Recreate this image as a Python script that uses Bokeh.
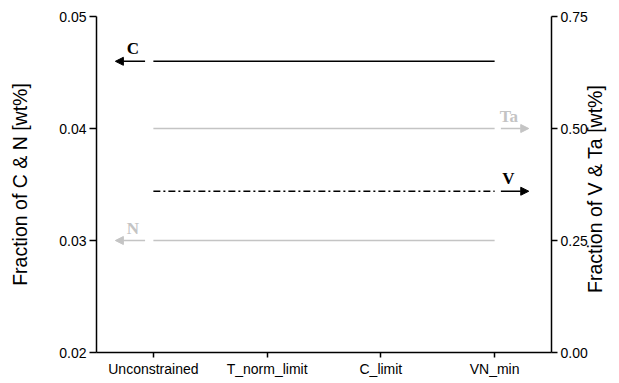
from bokeh.plotting import figure
from bokeh.models import (Range1d, LinearAxis, FixedTicker, NumeralTickFormatter,
                          Arrow, NormalHead, Label)
from bokeh.embed import file_html
from bokeh.resources import INLINE
import math

categories = ["Unconstrained", "T_norm_limit", "C_limit", "VN_min"]
c_vals = [0.046, 0.046, 0.046, 0.046]
n_vals = [0.030, 0.030, 0.030, 0.030]
ta_vals = [0.50, 0.50, 0.50, 0.50]
v_vals = [0.36, 0.36, 0.36, 0.36]
left_ticks = [0.02, 0.03, 0.04, 0.05]
right_ticks = [0.00, 0.25, 0.50, 0.75]
left_title = "Fraction of C & N [wt%]"
right_title = "Fraction of V & Ta [wt%]"

xs = list(range(len(categories)))
GRAY = "#c4c4c4"
SANS = "Liberation Sans"
SERIF = "Liberation Serif"

p = figure(width=619, height=383, output_backend="svg", toolbar_location=None,
           x_range=Range1d(-0.5, 3.5), y_range=Range1d(0.02, 0.05),
           min_border_left=96, min_border_right=63, min_border_top=16, min_border_bottom=31)
p.outline_line_color = None
p.grid.visible = False
p.background_fill_color = "white"
p.extra_y_ranges = {"right": Range1d(0.0, 0.75)}

# x axis
xa = p.xaxis[0]
xa.ticker = FixedTicker(ticks=xs)
xa.major_label_overrides = {i: c for i, c in enumerate(categories)}
xa.minor_tick_line_color = None
xa.major_tick_in = 0
xa.major_tick_out = 5
xa.axis_line_width = 1.5
xa.major_tick_line_width = 1.5
xa.major_label_text_font = SANS
xa.major_label_text_font_size = "14px"
xa.major_label_text_color = "black"
xa.major_label_standoff = 3

# left axis
ya = p.yaxis[0]
ya.ticker = FixedTicker(ticks=left_ticks)
ya.formatter = NumeralTickFormatter(format="0.00")
ya.axis_label = left_title

ra = LinearAxis(y_range_name="right", ticker=FixedTicker(ticks=right_ticks),
                formatter=NumeralTickFormatter(format="0.00"))
p.add_layout(ra, "right")

for ax in (ya, ra):
    ax.minor_tick_line_color = None
    ax.major_tick_in = 0
    ax.major_tick_out = 7
    ax.axis_line_width = 1.5
    ax.major_tick_line_width = 1.5
    ax.major_label_text_font = SANS
    ax.major_label_text_font_size = "14px"
    ax.major_label_text_color = "black"
    ax.major_label_standoff = 3
    ax.axis_label_text_font = SANS
    ax.axis_label_text_font_size = "19.5px"
    ax.axis_label_text_font_style = "normal"
    ax.axis_label_text_color = "black"

ya.axis_label_standoff = 25
ra.major_tick_out = 6
ra.axis_label_standoff = 4
# right title reads bottom to top: anchor it at the axis start and lift it
ra.axis_label = "\u00a0" * 11 + right_title
ra.axis_label_orientation = math.pi / 2
ra.axis_label_align = "start"

# lines
p.line(xs, c_vals, line_color="black", line_width=1.6)
p.line(xs, n_vals, line_color=GRAY, line_width=1.6)
p.line(xs, ta_vals, line_color=GRAY, line_width=1.6, y_range_name="right")
p.line(xs, v_vals, line_color="black", line_width=1.4, line_dash="7 3 2 3", y_range_name="right")

# arrows and labels
def arrow(x0, x1, y, color, rng="default"):
    p.add_layout(Arrow(x_start=x0, x_end=x1, y_start=y, y_end=y, y_range_name=rng,
                       line_color=color, line_width=1.6,
                       end=NormalHead(size=8, fill_color=color, line_color=color)))

def lab(x, y, t, color, rng="default"):
    p.add_layout(Label(x=x, y=y, text=t, y_range_name=rng, text_color=color,
                       text_font=SERIF, text_font_style="bold", text_font_size="17px",
                       text_align="center", text_baseline="bottom", y_offset=3))

first, last = xs[0], xs[-1]
arrow(first - 0.073, first - 0.334, c_vals[0], "black")
lab(first - 0.18, c_vals[0], "C", "black")
arrow(first - 0.073, first - 0.334, n_vals[0], GRAY)
lab(first - 0.18, n_vals[0], "N", GRAY)
arrow(last + 0.055, last + 0.30, ta_vals[-1], GRAY, "right")
lab(last + 0.125, ta_vals[-1], "Ta", GRAY, "right")
arrow(last + 0.055, last + 0.30, v_vals[-1], "black", "right")
lab(last + 0.12, v_vals[-1], "V", "black", "right")

open("out.html", "w").write(file_html(p, INLINE))
